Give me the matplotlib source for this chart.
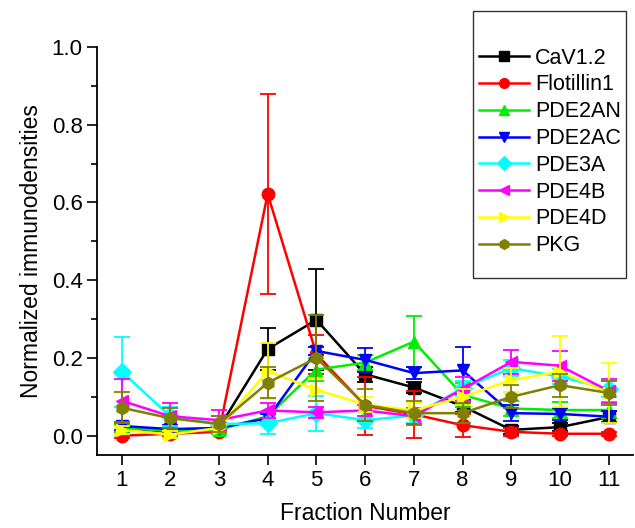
import matplotlib
matplotlib.use("Agg")
import matplotlib.pyplot as plt
from matplotlib.lines import Line2D
from matplotlib.patches import Rectangle

plt.rcParams["font.family"] = ["Liberation Sans", "DejaVu Sans"]

fractions = list(range(1, 12))

names = ["CaV1.2", "Flotillin1", "PDE2AN", "PDE2AC", "PDE3A", "PDE4B", "PDE4D", "PKG"]
colors = ["black", "red", "#00ee00", "blue", "cyan", "magenta", "yellow", "olive"]
markers = ["s", "o", "^", "v", "D", "<", ">", "h"]

# mean values per fraction
cav12 = [0.02, 0.01, 0.02, 0.223, 0.298, 0.158, 0.124, 0.076, 0.015, 0.022, 0.048]
flotillin1 = [0.0, 0.005, 0.01, 0.622, 0.21, 0.077, 0.055, 0.027, 0.01, 0.005, 0.005]
pde2an = [0.02, 0.012, 0.015, 0.05, 0.17, 0.188, 0.242, 0.105, 0.07, 0.066, 0.066]
pde2ac = [0.025, 0.017, 0.02, 0.045, 0.218, 0.195, 0.161, 0.168, 0.058, 0.056, 0.049]
pde3a = [0.165, 0.05, 0.03, 0.032, 0.058, 0.04, 0.052, 0.122, 0.174, 0.152, 0.12]
pde4b = [0.09, 0.05, 0.04, 0.065, 0.06, 0.065, 0.05, 0.12, 0.19, 0.18, 0.115]
pde4d = [0.015, 0.003, 0.02, 0.166, 0.118, 0.08, 0.065, 0.1, 0.143, 0.165, 0.11]
pkg = [0.072, 0.045, 0.03, 0.136, 0.2, 0.079, 0.058, 0.058, 0.1, 0.13, 0.11]

# error bar half-widths
cav12_err = [0.01, 0.005, 0.01, 0.055, 0.13, 0.02, 0.015, 0.015, 0.01, 0.01, 0.015]
flotillin1_err = [0.005, 0.005, 0.005, 0.258, 0.05, 0.075, 0.06, 0.03, 0.01, 0.005, 0.005]
pde2an_err = [0.01, 0.01, 0.01, 0.01, 0.03, 0.02, 0.066, 0.03, 0.02, 0.02, 0.02]
pde2ac_err = [0.01, 0.01, 0.01, 0.01, 0.01, 0.03, 0.015, 0.06, 0.02, 0.015, 0.015]
pde3a_err = [0.09, 0.025, 0.02, 0.028, 0.045, 0.02, 0.02, 0.02, 0.02, 0.02, 0.02]
pde4b_err = [0.055, 0.035, 0.025, 0.02, 0.015, 0.015, 0.02, 0.03, 0.03, 0.038, 0.03]
pde4d_err = [0.01, 0.01, 0.01, 0.072, 0.03, 0.02, 0.02, 0.02, 0.03, 0.092, 0.078]
pkg_err = [0.04, 0.025, 0.02, 0.04, 0.11, 0.04, 0.03, 0.025, 0.03, 0.03, 0.03]

values = [cav12, flotillin1, pde2an, pde2ac, pde3a, pde4b, pde4d, pkg]
errors = [cav12_err, flotillin1_err, pde2an_err, pde2ac_err, pde3a_err, pde4b_err, pde4d_err, pkg_err]

fig = plt.figure(figsize=(6.35, 5.28), dpi=100)
ax = fig.add_axes([0.153, 0.138, 0.844, 0.773])

for vals, errs, c, m in zip(values, errors, colors, markers):
    ax.errorbar(fractions, vals, yerr=errs, color=c, fmt="none",
                elinewidth=1.3, capsize=6, capthick=1.3)
    ax.plot(fractions, vals, color=c, marker=m, markersize=9, linewidth=1.8)

ax.set_xlim(0.5, 11.5)
ax.set_ylim(-0.05, 1.0)
ax.set_xticks(fractions)
ax.set_yticks([0.0, 0.2, 0.4, 0.6, 0.8, 1.0])
ax.set_yticks([0.1, 0.3, 0.5, 0.7, 0.9], minor=True)
ax.yaxis.set_major_formatter(matplotlib.ticker.FormatStrFormatter("%.1f"))
ax.tick_params(axis="both", which="major", direction="out", length=7, width=1.2, labelsize=16)
ax.tick_params(axis="y", which="minor", direction="out", length=4, width=1.2)
for side in ["top", "right"]:
    ax.spines[side].set_visible(False)
for side in ["left", "bottom"]:
    ax.spines[side].set_linewidth(1.3)

ax.set_xlabel("Fraction Number", fontsize=16.5, labelpad=8)
ax.set_ylabel("Normalized immunodensities", fontsize=16.5, labelpad=6)

# legend box sits partly above the axes
fig.patches.append(Rectangle((0.745, 0.473), 0.241, 0.506, transform=fig.transFigure,
                             fill=False, edgecolor="#333333", linewidth=1.0))
handles = [Line2D([], [], color=c, marker=m, markersize=7, linewidth=1.8)
           for c, m in zip(colors, markers)]
fig.legend(handles, names, loc="upper left", bbox_to_anchor=(0.748, 0.918),
           frameon=False, fontsize=15.5, handlelength=2.3, handletextpad=0.3,
           labelspacing=0.27, borderaxespad=0, borderpad=0.2)

fig.savefig("out.png", dpi=100)
